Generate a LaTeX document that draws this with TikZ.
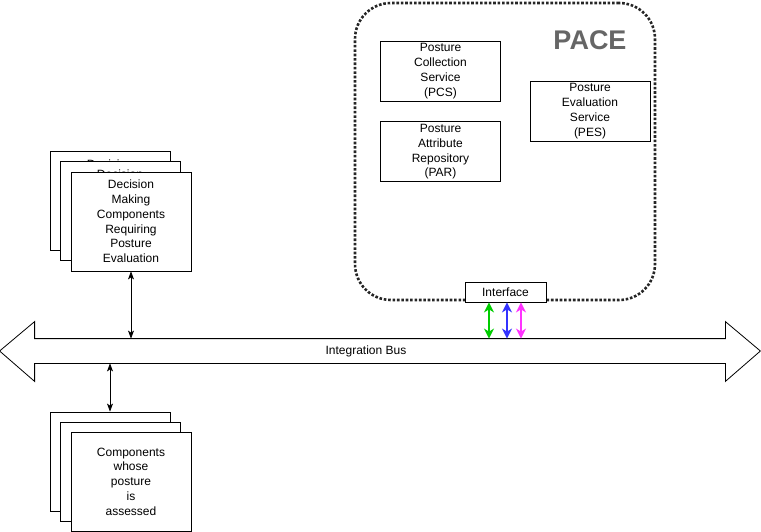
\documentclass[tikz,border=0pt]{standalone}
\usepackage{fontspec}
\setmainfont{Liberation Sans}
\usepackage{xcolor}
\usepackage{tikz}
\usetikzlibrary{arrows,shapes,positioning,calc}
\usetikzlibrary{arrows.meta}

\definecolor{ifgreen}{HTML}{00CC00}
\definecolor{ifblue}{HTML}{3333FF}
\definecolor{ifpink}{HTML}{FF33FF}
\definecolor{pacegray}{HTML}{666666}

\begin{document}
\begin{tikzpicture}[<->,>={Stealth[length=8pt,width=6pt,inset=2pt]},
	x=1pt, y=-1pt, line width=0.8pt,
	font=\fontsize{12}{14.8}\selectfont]
	
	\tikzstyle{box}=[rectangle, draw, fill=white, align=center,
	minimum width=120pt, minimum height=60pt, inner sep=0pt]
	
	\tikzstyle{stack}=[box, minimum height=99pt]
	
	\tikzstyle{link}=[line width=2pt, >={Stealth[length=10pt,width=10pt,inset=3pt]}]
	
	\useasboundingbox (0,0) rectangle (761,532);
	
	%PACE container
	\node[rectangle, draw=black!85, line width=2.6pt, dash pattern=on 2.6pt off 1.8pt,
	rounded corners=36pt, minimum width=300pt, minimum height=297pt]
	(pace) at (505,151.5) {};
	
	\node[font=\fontsize{27}{30}\selectfont\bfseries, text=pacegray]
	(paceTitle) at (590,40) {PACE};
	
	\node[box]
	(pcs) at (440.5,71)
	{Posture\\Collection\\Service\\(PCS)};
	
	\node[box]
	(par) [below=20pt of pcs]
	{Posture\\Attribute\\Repository\\(PAR)};
	
	\node[box]
	(pes) at (590,111)
	{Posture\\Evaluation\\Service\\(PES)};
	
	\node[box, minimum width=81pt, minimum height=20pt]
	(iface) at (505.5,292)
	{Interface};
	
	%integration bus
	\node[rectangle, minimum width=690pt, minimum height=24pt]
	(bus) at (380,351) {};
	
	\node
	(busLabel) at (366,351)
	{Integration Bus};
	
	\draw[-] (bus.north west) -- (bus.north east) -- ++(0,-17)
		-- ($(bus.east) + (35,0)$)
		-- ($(bus.south east) + (0,18)$) -- (bus.south east)
		-- (bus.south west) -- ++(0,18)
		-- ($(bus.west) + (-35,0)$)
		-- ($(bus.north west) + (0,-17)$) -- cycle;
	
	%decision making components
	\node[stack]
	(decBack) at (110,201)
	{Decision\\Making\\Components\\Requiring\\Posture\\Evaluation};
	
	\node[stack]
	(decMid) at (120,211)
	{Decision\\Making\\Components\\Requiring\\Posture\\Evaluation};
	
	\node[stack]
	(dec) at (131,221.5)
	{Decision\\Making\\Components\\Requiring\\Posture\\Evaluation};
	
	%assessed components
	\node[stack]
	(compBack) at (110,461.5) {};
	
	\node[stack]
	(compMid) at (120,471.5) {};
	
	\node[stack]
	(comp) at (131,481.5)
	{Components\\whose\\posture\\is\\assessed};
	
	\draw (dec.south) -- (dec.south |- bus.north);
	\draw (bus.south -| compBack.north) -- (compBack.north);
	
	\draw[link, ifgreen] ([xshift=-16.5pt]iface.south)
		-- ([xshift=-16.5pt]iface.south |- bus.north);
	\draw[link, ifblue] ([xshift=1.5pt]iface.south)
		-- ([xshift=1.5pt]iface.south |- bus.north);
	\draw[link, ifpink] ([xshift=15.5pt]iface.south)
		-- ([xshift=15.5pt]iface.south |- bus.north);
	
\end{tikzpicture}
\end{document}
